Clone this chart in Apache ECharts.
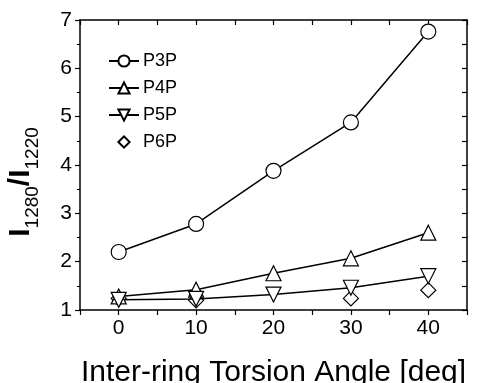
<!DOCTYPE html>
<html><head><meta charset="utf-8">
<script src="https://cdn.jsdelivr.net/npm/echarts@6/dist/echarts.min.js"></script>
<style>html,body{margin:0;padding:0;background:#fff}#c{width:477px;height:383px}</style>
</head><body><div id="c"></div>
<script>
const angles = [0, 10, 20, 30, 40];
const p3p = [2.2, 2.78, 3.88, 4.88, 6.76];
const p4p = [1.28, 1.42, 1.76, 2.07, 2.6];
const p5p = [1.21, 1.23, 1.32, 1.46, 1.7];
const p6p = [1.24, 1.2, null, 1.24, 1.41];
const seriesNames = ['P3P', 'P4P', 'P5P', 'P6P'];
const yTicks = [1, 2, 3, 4, 5, 6, 7];
const xTicks = [0, 10, 20, 30, 40];

const font = 'Liberation Sans, Arial, sans-serif';
const pair = arr => angles.map((a, i) => [a, arr[i]]).filter(d => d[1] != null);
const markerStyle = {color: '#fff', borderColor: '#000', borderWidth: 1.2};
const lineSeries = (name, arr, symbol, size) => ({
  name, type: 'line', data: pair(arr), symbol, symbolSize: size,
  itemStyle: markerStyle, lineStyle: {color: '#000', width: 1.5},
  emphasis: {disabled: true}, z: 3
});
const axisLine = {show: true, onZero: false, lineStyle: {color: '#000', width: 1.5}};
const chart = echarts.init(document.getElementById('c'), null, {renderer: 'canvas'});
chart.setOption({
  animation: false,
  backgroundColor: '#fff',
  grid: {left: 80, right: 10, top: 20, bottom: 73, containLabel: false, outerBoundsMode: 'none'},
  legend: {
    left: 103, top: 47, orient: 'vertical', itemGap: 9, itemWidth: 30, itemHeight: 14,
    textStyle: {fontFamily: font, fontSize: 18, color: '#000', padding: [0, 0, 0, -1]},
    data: seriesNames
  },
  xAxis: [{
    type: 'value', min: -5, max: 45, interval: 5,
    name: 'Inter-ring Torsion Angle [deg]', nameLocation: 'middle', nameGap: 48,
    nameTextStyle: {fontFamily: font, fontSize: 30, color: '#000'},
    axisLine,
    axisTick: {show: true, inside: false, length: 5, lineStyle: {color: '#000', width: 1.2}},
    axisLabel: {fontFamily: font, fontSize: 21, color: '#000', margin: 8,
      formatter: v => xTicks.includes(v) ? String(v) : ''},
    splitLine: {show: false}
  }, {
    type: 'value', position: 'top', min: -5, max: 45, interval: 5,
    axisLine,
    axisTick: {show: true, inside: true, length: 5, lineStyle: {color: '#000', width: 1.2}},
    axisLabel: {show: false}, splitLine: {show: false}
  }],
  yAxis: [{
    type: 'value', min: 1, max: 7, interval: 1,
    name: '{b|I}{s|1280}{b|/I}{s|1220}', nameLocation: 'middle', nameGap: 44, nameRotate: 90,
    nameTextStyle: {
      fontFamily: font, color: '#000', padding: [0, 0, 0, -34],
      rich: {
        b: {fontFamily: font, fontSize: 30, fontWeight: 'bold', color: '#000', lineHeight: 34, verticalAlign: 'bottom'},
        s: {fontFamily: font, fontSize: 19, color: '#000', lineHeight: 34, verticalAlign: 'bottom', padding: [0, 0, -6, 0]}
      }
    },
    axisLine,
    axisTick: {show: true, inside: false, length: 5, lineStyle: {color: '#000', width: 1.2}},
    minorTick: {show: true, splitNumber: 2, length: 3, lineStyle: {color: '#000', width: 1}},
    axisLabel: {fontFamily: font, fontSize: 21, color: '#000', margin: 8,
      formatter: v => yTicks.includes(v) ? String(v) : ''},
    splitLine: {show: false}
  }, {
    type: 'value', position: 'right', min: 1, max: 7, interval: 0.5,
    axisLine,
    axisTick: {show: true, inside: true, length: 5, lineStyle: {color: '#000', width: 1.2}},
    axisLabel: {show: false}, splitLine: {show: false}
  }],
  series: [
    lineSeries('P3P', p3p, 'circle', 15),
    lineSeries('P4P', p4p, 'triangle', 15),
    Object.assign(lineSeries('P5P', p5p, 'triangle', 15), {symbolRotate: 180}),
    Object.assign(lineSeries('P6P', p6p, 'diamond', 15), {lineStyle: {width: 0, opacity: 0}, z: 2})
  ]
});
</script></body></html>
